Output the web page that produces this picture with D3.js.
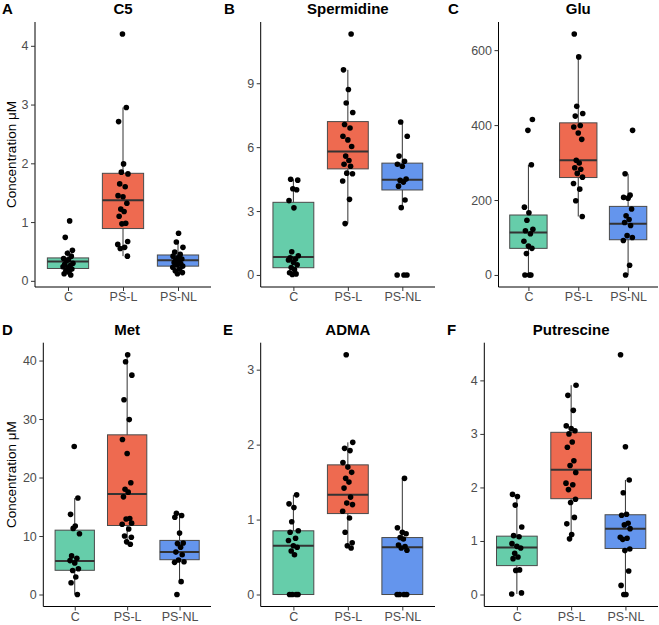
<!DOCTYPE html>
<html>
<head>
<meta charset="utf-8">
<script src="https://cdn.jsdelivr.net/npm/d3@7"></script>
<style>
  body { margin: 0; background: #fff; }
  text { font-family: "Liberation Sans", Arial, sans-serif; }
</style>
</head>
<body>
<svg id="chart" width="659" height="625"></svg>
<script>
// groups and colours
const groups = ["C", "PS-L", "PS-NL"];
const groupColors = ["#66CDAA", "#EE6A50", "#6495ED"];

const titles = ["C5", "Spermidine", "Glu", "Met", "ADMA", "Putrescine"];
const letters = ["A", "B", "C", "D", "E", "F"];

// points per group (C, PS-L, PS-NL)
const c5Points = [
  [1.02, 0.74, 0.52, 0.47, 0.42, 0.38, 0.36, 0.34, 0.30, 0.28, 0.26, 0.24, 0.22, 0.20, 0.17, 0.15, 0.12, 0.10],
  [4.20, 2.95, 2.71, 1.99, 1.85, 1.82, 1.65, 1.60, 1.45, 1.43, 1.32, 1.22, 1.18, 1.10, 0.98, 0.97, 0.67, 0.62, 0.57, 0.55, 0.42],
  [0.81, 0.66, 0.57, 0.49, 0.45, 0.42, 0.39, 0.37, 0.35, 0.33, 0.31, 0.29, 0.27, 0.25, 0.23, 0.20, 0.17, 0.14, 0.12]
];
const spermidinePoints = [
  [4.49, 4.45, 4.05, 4.0, 3.49, 3.15, 1.09, 0.9, 0.8, 0.75, 0.70, 0.6, 0.48, 0.35, 0.25, 0.1, 0.05, 0.02],
  [11.31, 9.63, 8.71, 8.07, 7.63, 7.06, 6.90, 6.51, 6.34, 6.03, 5.58, 5.37, 5.2, 5.1, 4.78, 4.75, 4.41, 3.55, 2.41],
  [7.18, 6.51, 5.58, 5.34, 5.20, 5.1, 4.5, 4.44, 4.36, 4.17, 3.52, 3.16, 0, 0, 0]
];
const gluPoints = [
  [415, 386, 294, 181, 166, 146, 122, 118, 110, 90, 77, 71, 57, 0, 0, 0],
  [643, 582, 450, 431, 424, 399, 395, 379, 362, 306, 299, 286, 282, 271, 261, 244, 229, 198, 156],
  [386, 270, 213, 207, 205, 176, 158, 148, 140, 132, 105, 100, 92, 26, 0]
];
const metPoints = [
  [25.3, 16.5, 13.7, 11.7, 11.3, 10.4, 6.6, 6.2, 5.8, 5.4, 4.4, 4.1, 3.0, 2.0, 0],
  [41.0, 39.8, 37.5, 33.3, 29.9, 26.5, 24.1, 19.1, 18.0, 17.5, 16.7, 13.0, 12.9, 12.2, 12.0, 11.2, 10.0, 9.8, 9.0, 8.6],
  [13.9, 13.5, 13.2, 10.5, 8.8, 8.7, 8.1, 7.25, 6.8, 5.9, 5.6, 5.5, 2.2, 0]
];
const admaPoints = [
  [1.33, 1.21, 1.16, 0.97, 0.85, 0.83, 0.75, 0.72, 0.65, 0.63, 0.58, 0.53, 0, 0, 0, 0],
  [3.20, 2.03, 1.95, 1.92, 1.76, 1.70, 1.63, 1.55, 1.50, 1.42, 1.30, 1.22, 1.20, 1.11, 1.02, 0.83, 0.69, 0.65, 0.62],
  [1.55, 0.89, 0.83, 0.81, 0.76, 0.74, 0.66, 0.64, 0.62, 0.59, 0, 0, 0, 0]
];
const putrescinePoints = [
  [1.87, 1.83, 1.67, 1.26, 1.10, 1.08, 0.95, 0.90, 0.87, 0.77, 0.70, 0.67, 0.46, 0.45, 0.03, 0.01],
  [3.91, 3.72, 3.44, 3.15, 3.10, 3.06, 3.0, 2.85, 2.75, 2.50, 2.41, 2.28, 2.08, 2.05, 1.96, 1.78, 1.72, 1.44, 1.32, 1.12, 1.04],
  [4.48, 2.76, 2.14, 1.90, 1.50, 1.48, 1.33, 1.30, 1.23, 1.07, 1.05, 1.03, 0.85, 0.82, 0.44, 0.17, 0, 0]
];

// box stats: [lower whisker, q1, median, q3, upper whisker]
const c5Box = [[0.10, 0.21, 0.33, 0.39, 0.52], [0.42, 0.89, 1.37, 1.83, 2.95], [0.12, 0.25, 0.35, 0.44, 0.66]];
const spermidineBox = [[0.02, 0.34, 0.84, 3.41, 4.49], [2.41, 4.98, 5.79, 7.20, 9.63], [3.16, 3.99, 4.47, 5.25, 7.18]];
const gluBox = [[0, 71, 113, 160, 294], [156, 260, 306, 406, 582], [0, 94, 137, 183, 270]];
const metBox = [[0, 4.14, 5.72, 11.0, 16.5], [8.6, 11.8, 17.2, 27.3, 41.0], [2.2, 5.95, 7.25, 9.25, 13.9]];
const admaBox = [[0, 0, 0.65, 0.85, 1.33], [0.62, 1.08, 1.33, 1.73, 2.03], [0, 0, 0.63, 0.76, 1.55]];
const putrescineBox = [[0.01, 0.54, 0.88, 1.09, 1.87], [1.04, 1.79, 2.33, 3.03, 3.91], [0, 0.86, 1.23, 1.49, 2.14]];

// tick labels
const c5Ticks = [0, 1, 2, 3, 4];
const spermidineTicks = [0, 3, 6, 9];
const gluTicks = [0, 200, 400, 600];
const metTicks = [0, 10, 20, 30, 40];
const admaTicks = [0, 1, 2, 3];
const putrescineTicks = [0, 1, 2, 3, 4];

const allPoints = [c5Points, spermidinePoints, gluPoints, metPoints, admaPoints, putrescinePoints];
const allBoxes = [c5Box, spermidineBox, gluBox, metBox, admaBox, putrescineBox];
const allTicks = [c5Ticks, spermidineTicks, gluTicks, metTicks, admaTicks, putrescineTicks];

// layout
const plotX = [[35, 211], [260.7, 435], [498.5, 658], [43.3, 211], [260.7, 435], [484.3, 658]];
const plotY = [[22, 287], [22, 287], [22, 287], [342.7, 606.5], [342.7, 606.5], [342.7, 606.5]];
const letterX = [2, 224, 448, 2, 223, 447];
const tickLen = 4;
const jitterPattern = [0.3, -0.5, 0.8, -0.1, 0.6, -0.8, 0.1, -0.3, 0.9, -0.6, 0.4, -0.9, 0.0, 0.7, -0.4, 0.2, -0.7, 0.5, -0.2, 0.85, -0.95];

const svg = d3.select("#chart");

titles.forEach(function(title, p) {
  const [x0, x1] = plotX[p];
  const [y0, y1] = plotY[p];
  const g = svg.append("g");

  const x = d3.scalePoint().domain(groups).range([x0, x1]).padding(0.6);
  const step = x.step();
  const boxW = step * 0.75;

  const flat = allPoints[p].flat();
  const lo = d3.min(flat), hi = d3.max(flat);
  const pad = (hi - lo) * 0.05;
  const y = d3.scaleLinear().domain([lo - pad, hi + pad]).range([y1, y0]);

  // boxes
  const boxes = g.selectAll("g.box")
    .data(allBoxes[p])
    .enter()
    .append("g")
    .attr("class", "box");

  boxes.append("line")
    .attr("x1", (d, i) => x(groups[i]))
    .attr("x2", (d, i) => x(groups[i]))
    .attr("y1", d => y(d[0]))
    .attr("y2", d => y(d[4]))
    .attr("stroke", "#333")
    .attr("stroke-width", 1);

  boxes.append("rect")
    .attr("x", (d, i) => x(groups[i]) - boxW / 2)
    .attr("width", boxW)
    .attr("y", d => y(d[3]))
    .attr("height", d => Math.max(0.5, y(d[1]) - y(d[3])))
    .attr("fill", (d, i) => groupColors[i])
    .attr("stroke", "#4a4a4a")
    .attr("stroke-width", 1);

  boxes.append("line")
    .attr("x1", (d, i) => x(groups[i]) - boxW / 2)
    .attr("x2", (d, i) => x(groups[i]) + boxW / 2)
    .attr("y1", d => y(d[2]))
    .attr("y2", d => y(d[2]))
    .attr("stroke", "#333")
    .attr("stroke-width", 2);

  // jittered points
  allPoints[p].forEach(function(vals, gi) {
    g.selectAll(null)
      .data(vals)
      .enter()
      .append("circle")
      .attr("cx", (d, i) => x(groups[gi]) + jitterPattern[(i + gi * 3 + p) % jitterPattern.length] * step * 0.1)
      .attr("cy", d => y(d))
      .attr("r", 2.8)
      .attr("fill", "#000");
  });

  // axes
  const yAxis = d3.axisLeft(y).tickValues(allTicks[p]).tickFormat(d3.format("d")).tickSize(tickLen).tickPadding(2.5);
  const xAxis = d3.axisBottom(x).tickSize(tickLen).tickPadding(1.5);

  const ya = g.append("g").attr("transform", "translate(" + x0 + ",0)").call(yAxis);
  ya.select(".domain").attr("d", "M0," + y1 + "V" + y0);
  const xa = g.append("g").attr("transform", "translate(0," + y1 + ")").call(xAxis);
  xa.select(".domain").attr("d", "M" + x0 + ",0H" + x1);

  [ya, xa].forEach(function(a) {
    a.select(".domain").attr("stroke", "#000").attr("stroke-width", 1);
    a.selectAll(".tick line").attr("stroke", "#333");
    a.selectAll(".tick text")
      .attr("fill", "#4d4d4d")
      .style("font-size", "12.5px")
      .style("font-family", "'Liberation Sans', Arial, sans-serif");
  });

  // title and panel letter
  g.append("text")
    .attr("x", (x0 + x1) / 2)
    .attr("y", y0 - 8)
    .attr("text-anchor", "middle")
    .style("font-size", "15px")
    .style("font-weight", "bold")
    .text(title);

  g.append("text")
    .attr("x", letterX[p])
    .attr("y", y0 - 8)
    .style("font-size", "15px")
    .style("font-weight", "bold")
    .text(letters[p]);

  if (p % 3 === 0) {
    g.append("text")
      .attr("transform", "translate(16," + ((y0 + y1) / 2) + ") rotate(-90)")
      .attr("text-anchor", "middle")
      .style("font-size", "13.5px")
      .text("Concentration μM");
  }
});
</script>
</body>
</html>
